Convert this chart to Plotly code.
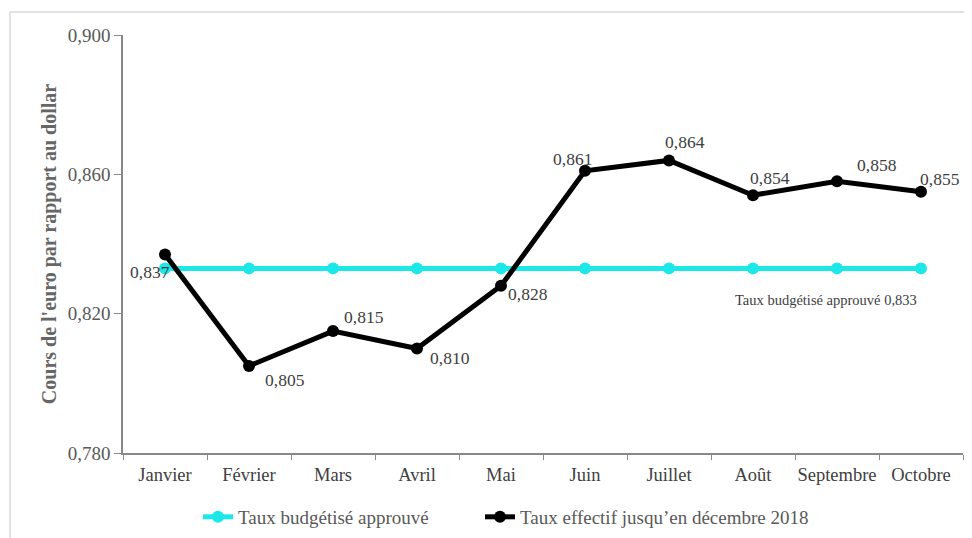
import plotly.graph_objects as go

mois = ["Janvier", "Février", "Mars", "Avril", "Mai", "Juin", "Juillet", "Août", "Septembre", "Octobre"]
taux_budgetise = [0.833] * 10
taux_effectif = [0.837, 0.805, 0.815, 0.810, 0.828, 0.861, 0.864, 0.854, 0.858, 0.855]
y_ticks = [0.780, 0.820, 0.860, 0.900]
y_tick_labels = ["0,780", "0,820", "0,860", "0,900"]

label_shifts = [(-15, -18), (36, -14), (31, 14), (33, -9), (27, -8),
                (-13, 12), (16, 18), (17, 17), (40, 16), (19, 13)]

FONT = "Liberation Serif, Times New Roman, serif"
GREY = "#595959"

fig = go.Figure()
fig.add_trace(go.Scatter(
    x=mois, y=taux_budgetise, mode="lines+markers",
    name="Taux budgétisé approuvé",
    line=dict(color="#1CE8E8", width=5),
    marker=dict(color="#1CE8E8", size=12),
    legend="legend",
))
fig.add_trace(go.Scatter(
    x=mois, y=taux_effectif, mode="lines+markers",
    name="Taux effectif jusqu’en décembre 2018",
    line=dict(color="#000000", width=5),
    marker=dict(color="#000000", size=12),
    legend="legend2",
))

for m, v, (dx, dy) in zip(mois, taux_effectif, label_shifts):
    fig.add_annotation(x=m, y=v, text=f"{v:.3f}".replace(".", ","),
                       showarrow=False, xshift=dx, yshift=dy,
                       font=dict(family=FONT, size=17.5, color="#404040"))

fig.add_annotation(x=mois[8], y=taux_budgetise[8],
                   text="Taux budgétisé approuvé " + f"{taux_budgetise[0]:.3f}".replace(".", ","),
                   showarrow=False, xshift=-11, yshift=-32,
                   font=dict(family=FONT, size=14.5, color="#404040"))

fig.add_shape(type="rect", xref="paper", yref="paper",
              x0=-113/840, x1=1.05, y0=-0.3, y1=1 + 23/418,
              line=dict(color="#D9D9D9", width=1.5), fillcolor="rgba(0,0,0,0)",
              layer="below")

legend_common = dict(orientation="h", xanchor="left", y=-0.153, yanchor="middle",
                     font=dict(family=FONT, size=19, color=GREY), bgcolor="rgba(0,0,0,0)")

fig.update_layout(
    width=964, height=530,
    margin=dict(l=115, r=9, t=27, b=85, autoexpand=False),
    paper_bgcolor="white", plot_bgcolor="white",
    font=dict(family=FONT, color=GREY, size=18),
    showlegend=True,
    legend=dict(x=(198 - 123) / 840, **legend_common),
    legend2=dict(x=(480 - 123) / 840, **legend_common),
    xaxis=dict(showgrid=False, showline=True, linecolor="#888888", linewidth=1.5,
               ticks="outside", tickson="boundaries", ticklen=5, tickcolor="#888888",
               tickangle=0, automargin=False, ticklabelstandoff=4,
               tickfont=dict(family=FONT, size=18.5, color="#404040"),
               range=[-0.5, 9.5]),
    yaxis=dict(range=[0.780, 0.900], tickvals=y_ticks, ticktext=y_tick_labels,
               showgrid=False, zeroline=False, showline=True, linecolor="#888888",
               linewidth=1.5, ticks="outside", ticklen=7, tickcolor="#888888",
               automargin=False,
               tickfont=dict(family=FONT, size=19, color=GREY),
               title=dict(text="<b>Cours de l'euro par rapport au dollar</b>",
                          font=dict(family=FONT, size=20, color="#666666"), standoff=6)),
)

fig.write_html("out.html")
